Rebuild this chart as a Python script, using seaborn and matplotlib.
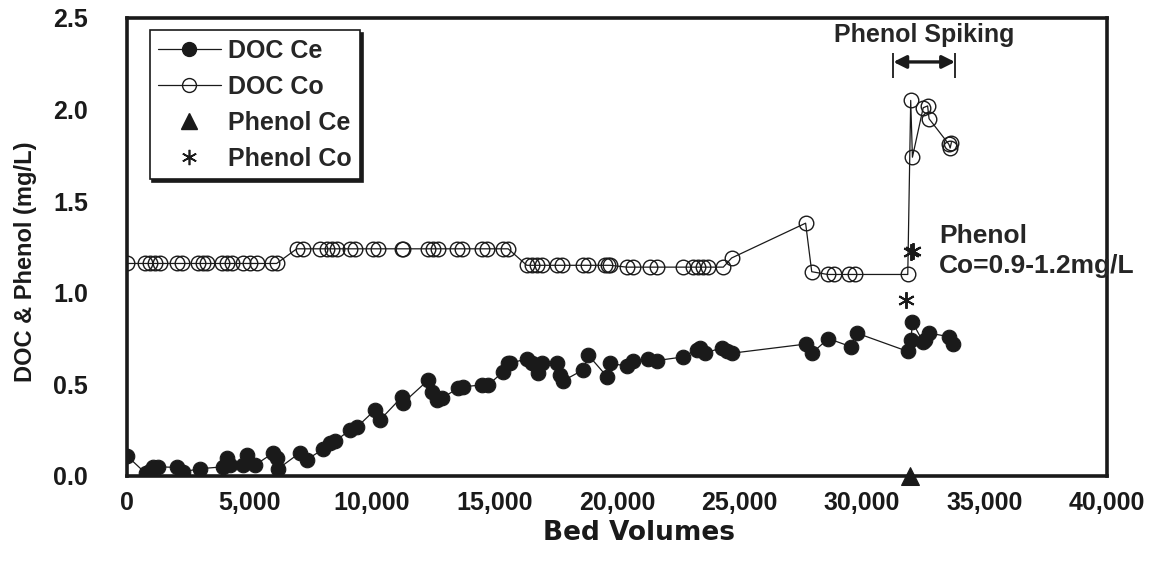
import matplotlib
matplotlib.use("Agg")
import matplotlib.pyplot as plt
from matplotlib.lines import Line2D
import seaborn as sns

# DOC in the column effluent (Ce) against bed volumes treated
ce_bv = [0, 760, 940, 1060, 1270, 2030, 2300, 2980, 3930, 4070, 4200, 4750, 4890,
         5230, 5950, 6110, 6180, 7060, 7340, 8010, 8290, 8490, 9100, 9380, 10120,
         10330, 11210, 11280, 12300, 12440, 12640, 12850, 13520, 13730, 14480,
         14750, 15360, 15560, 15640, 16320, 16520, 16790, 16930, 17540, 17680,
         17810, 18630, 18830, 19610, 19720, 20400, 20670, 21280, 21620, 22710,
         23250, 23390, 23590, 24270, 24480, 24680, 27700, 27950, 28630, 29540,
         29790, 31870, 32000, 32060, 32500, 32580, 32740, 33570, 33700]
ce_doc = [0.11, 0.015, 0.03, 0.05, 0.05, 0.047, 0.023, 0.04, 0.05, 0.10, 0.06, 0.06,
          0.115, 0.06, 0.124, 0.10, 0.04, 0.127, 0.09, 0.146, 0.18, 0.19, 0.25,
          0.266, 0.36, 0.306, 0.43, 0.40, 0.524, 0.46, 0.415, 0.424, 0.48, 0.487,
          0.497, 0.497, 0.57, 0.615, 0.615, 0.64, 0.615, 0.56, 0.615, 0.615, 0.55,
          0.52, 0.58, 0.66, 0.54, 0.615, 0.60, 0.63, 0.64, 0.63, 0.65, 0.69, 0.70,
          0.67, 0.70, 0.68, 0.67, 0.72, 0.67, 0.75, 0.706, 0.78, 0.68, 0.74, 0.84,
          0.73, 0.74, 0.78, 0.76, 0.72]

# DOC in the column influent (Co)
co_bv = [0, 735, 940, 1140, 1350, 2030, 2230, 2910, 3110, 3250, 3860, 4070, 4270,
         4750, 5020, 5290, 5910, 6110, 6930, 7200, 7880, 8150, 8360, 8560, 9100,
         9310, 10050, 10260, 11210, 11280, 12300, 12500, 12710, 13460, 13660,
         14480, 14680, 15360, 15560, 16320, 16520, 16720, 16930, 17540, 17750,
         18630, 18830, 19510, 19650, 19720, 20400, 20670, 21350, 21620, 22710,
         23120, 23320, 23520, 23730, 24340, 24680, 27700, 27950, 28600, 28850,
         29470, 29720, 31870, 31990, 32060, 32500, 32680, 32740, 33550, 33600,
         33650]
co_doc = [1.16, 1.16, 1.16, 1.16, 1.16, 1.16, 1.16, 1.16, 1.16, 1.16, 1.16, 1.16,
          1.16, 1.16, 1.16, 1.16, 1.16, 1.16, 1.24, 1.24, 1.24, 1.24, 1.24, 1.24,
          1.24, 1.24, 1.24, 1.24, 1.24, 1.24, 1.24, 1.24, 1.24, 1.24, 1.24, 1.24,
          1.24, 1.24, 1.24, 1.15, 1.15, 1.15, 1.15, 1.15, 1.15, 1.15, 1.15, 1.15,
          1.15, 1.15, 1.14, 1.14, 1.14, 1.14, 1.14, 1.14, 1.14, 1.14, 1.14, 1.14,
          1.19, 1.38, 1.115, 1.10, 1.10, 1.10, 1.10, 1.10, 2.05, 1.74, 2.01, 2.02,
          1.95, 1.81, 1.79, 1.82]

# Phenol measurements during the spiking period
phenol_ce_bv = [31950]
phenol_ce = [0.0]
phenol_co_bv = [31800, 32000, 32080]
phenol_co = [0.96, 1.22, 1.23]

spike_start, spike_end = 31280, 33800

x_ticks = [0, 5000, 10000, 15000, 20000, 25000, 30000, 35000, 40000]
y_ticks = [0.0, 0.5, 1.0, 1.5, 2.0, 2.5]

sns.set_theme(style="white")
plt.rcParams["font.family"] = ["DejaVu Sans"]

tick_font = ["Liberation Sans", "DejaVu Sans"]
note_font = ["Liberation Sans", "DejaVu Sans"]

fig = plt.figure(figsize=(11.49, 5.67), dpi=100)
ax = fig.add_axes([0.1105, 0.1605, 0.8529, 0.8078])

line_kw = dict(color="k", linewidth=0.9, estimator=None, sort=False, ax=ax)
sns.lineplot(x=ce_bv, y=ce_doc, marker="o", markersize=10.5,
             markerfacecolor="k", markeredgecolor="k", markeredgewidth=0.8,
             zorder=3, **line_kw)
sns.lineplot(x=co_bv, y=co_doc, marker="o", markersize=10.5,
             markerfacecolor="none", markeredgecolor="k", markeredgewidth=1.0,
             zorder=3, **line_kw)
sns.lineplot(x=phenol_ce_bv, y=phenol_ce, marker="^", markersize=13,
             linestyle="", markerfacecolor="k", markeredgecolor="k",
             clip_on=False, zorder=5, color="k", estimator=None, ax=ax)
sns.lineplot(x=phenol_co_bv, y=phenol_co, marker=(6, 2, 0), markersize=12,
             linestyle="", markeredgecolor="k", markeredgewidth=1.4,
             zorder=5, color="k", estimator=None, sort=False, ax=ax)

ax.set_xlim(x_ticks[0], x_ticks[-1])
ax.set_ylim(y_ticks[0], y_ticks[-1])
ax.set_xticks(x_ticks)
ax.set_xticklabels([f"{v:,}" for v in x_ticks])
ax.set_yticks(y_ticks)
ax.set_yticklabels([f"{v:.1f}" for v in y_ticks])
ax.tick_params(axis="both", direction="in", length=8, width=1.2, color="k",
               labelsize=18, labelcolor="k")
ax.tick_params(axis="y", pad=28)
ax.tick_params(axis="x", pad=11)
for lab in ax.get_xticklabels() + ax.get_yticklabels():
    lab.set_family(tick_font)
    lab.set_fontweight("bold")
for sp in ax.spines.values():
    sp.set_visible(True)
    sp.set_color("k")
    sp.set_linewidth(2.6)
ax.grid(False)

ax.set_xlabel("Bed Volumes", fontsize=19, fontweight="bold",
              family=["DejaVu Sans"], color="k")
ax.xaxis.set_label_coords(0.523, -0.097)
ax.set_ylabel("DOC & Phenol (mg/L)", fontsize=17, fontweight="bold",
              family=tick_font, color="k")
ax.yaxis.set_label_coords(-0.092, 0.468)

# Spiking period marker
ax.annotate("", xy=(spike_start, 2.26), xytext=(spike_end, 2.26),
            arrowprops=dict(arrowstyle="<|-|>", color="k", lw=2.4,
                            mutation_scale=19, shrinkA=0, shrinkB=0))
ax.vlines([spike_start, spike_end], 2.17, 2.31, color="k", lw=1.3)
ax.text((spike_start + spike_end) / 2, 2.405, "Phenol Spiking", ha="center",
        va="center", fontsize=18, fontweight="bold", family=note_font)
ax.text(33150, 1.375, "Phenol\nCo=0.9-1.2mg/L", ha="left", va="top",
        fontsize=19, fontweight="bold", family=note_font, linespacing=1.3,
        clip_on=False)

handles = [
    Line2D([], [], color="k", lw=0.9, marker="o", markersize=10,
           markerfacecolor="k", markeredgecolor="k"),
    Line2D([], [], color="k", lw=0.9, marker="o", markersize=10,
           markerfacecolor="none", markeredgecolor="k"),
    Line2D([], [], color="k", lw=0, marker="^", markersize=12,
           markerfacecolor="k", markeredgecolor="k"),
    Line2D([], [], color="k", lw=0, marker=(6, 2, 0), markersize=11,
           markeredgecolor="k", markeredgewidth=1.2),
]
labels = ["DOC Ce", "DOC Co", "Phenol Ce", "Phenol Co"]
leg = ax.legend(handles, labels, loc="upper left", bbox_to_anchor=(0.023, 0.973),
                frameon=True, fancybox=False, shadow={"color": "k", "alpha": 1},
                prop={"family": tick_font, "weight": "bold", "size": 18},
                handlelength=2.5, handletextpad=0.3, labelspacing=0.48,
                borderpad=0.34, borderaxespad=0)
leg.get_frame().set_edgecolor("k")
leg.get_frame().set_linewidth(1.2)
leg.get_frame().set_facecolor("white")

fig.savefig("out.png", dpi=100)
